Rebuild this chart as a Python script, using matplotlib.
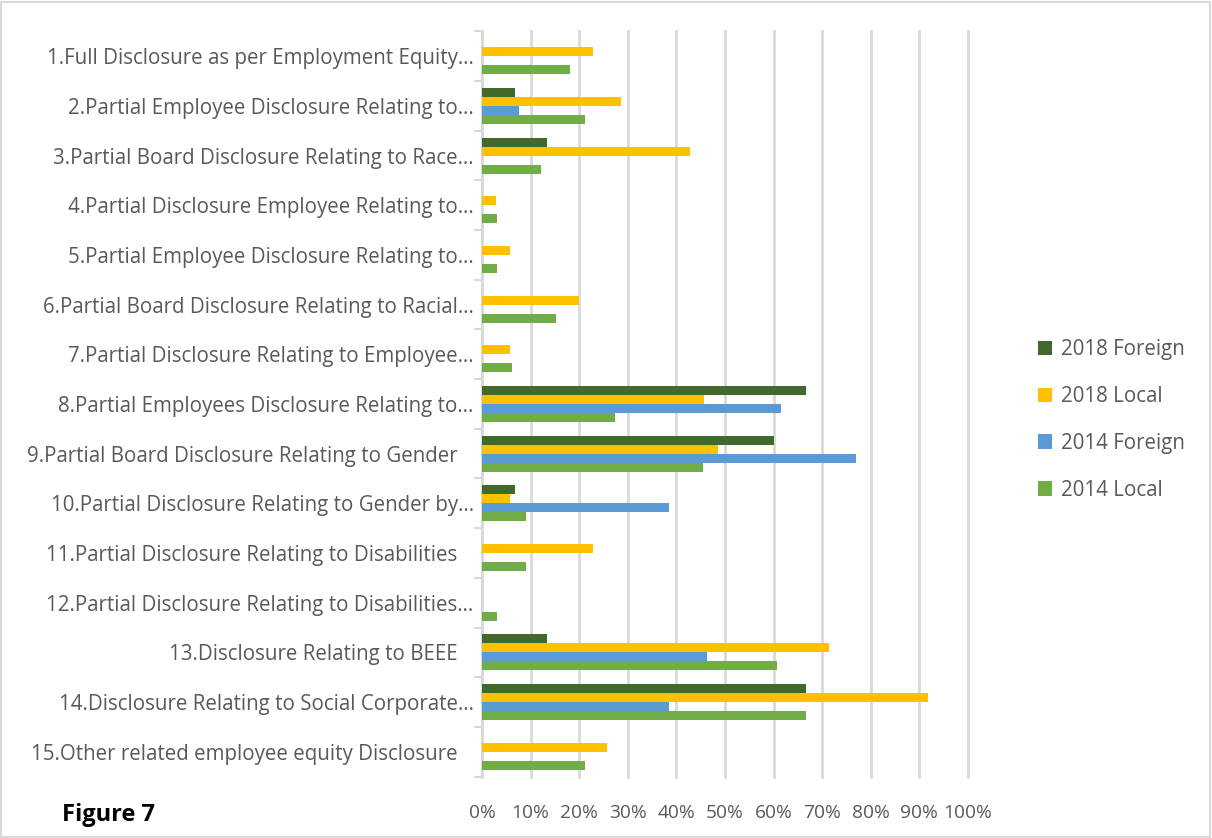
import matplotlib.pyplot as plt
import matplotlib.patches as mpatches
import numpy as np

plt.rcParams['font.family'] = ['Open Sans', 'DejaVu Sans']

categories = [
    "1.Full Disclosure as per Employment Equity\u2026",
    "2.Partial Employee Disclosure Relating to\u2026",
    "3.Partial Board Disclosure Relating to Race\u2026",
    "4.Partial Disclosure Employee Relating to\u2026",
    "5.Partial Employee Disclosure Relating to\u2026",
    "6.Partial Board Disclosure Relating to Racial\u2026",
    "7.Partial Disclosure Relating to Employee\u2026",
    "8.Partial Employees Disclosure Relating to\u2026",
    "9.Partial Board Disclosure Relating to Gender   ",
    "10.Partial Disclosure Relating to Gender by\u2026",
    "11.Partial Disclosure Relating to Disabilities   ",
    "12.Partial Disclosure Relating to Disabilities\u2026",
    "13.Disclosure Relating to BEEE   ",
    "14.Disclosure Relating to Social Corporate\u2026",
    "15.Other related employee equity Disclosure   ",
]

# values in percent, categories 1..15
foreign_2018 = [0, 6.7, 13.3, 0, 0, 0, 0, 66.7, 60.0, 6.7, 0, 0, 13.3, 66.7, 0]
local_2018 = [22.9, 28.6, 42.9, 2.9, 5.7, 20.0, 5.7, 45.7, 48.6, 5.7, 22.9, 0, 71.4, 91.7, 25.7]
foreign_2014 = [0, 7.7, 0, 0, 0, 0, 0, 61.5, 76.9, 38.5, 0, 0, 46.2, 38.5, 0]
local_2014 = [18.2, 21.2, 12.1, 3.0, 3.0, 15.2, 6.1, 27.3, 45.5, 9.1, 9.1, 3.0, 60.6, 66.7, 21.2]

series = [
    ("2018 Foreign", foreign_2018, "#43682B"),
    ("2018 Local", local_2018, "#FFC000"),
    ("2014 Foreign", foreign_2014, "#5B9BD5"),
    ("2014 Local", local_2014, "#70AD47"),
]

fig = plt.figure(figsize=(12.12, 8.38), dpi=100)
ax = fig.add_axes([482/1212, 1 - 776.5/838, 486/1212, 745/838])

n = len(categories)
y = np.arange(n)
h = 0.18
for i, (name, vals, col) in enumerate(series):
    ax.barh(y + (i - 1.5) * h, np.array(vals) / 100, height=h, color=col,
            label=name, zorder=3)

ax.set_xlim(0, 1)
ax.set_ylim(n - 0.5, -0.5)
ax.set_xticks(np.arange(0, 1.01, 0.1))
ax.set_xticklabels([f"{int(round(v*100))}%" for v in np.arange(0, 1.01, 0.1)])
ax.grid(axis="x", color="#d9d9d9", linewidth=2, zorder=0)
for gl in ax.get_xgridlines():
    gl.set_clip_on(False)
ax.set_yticks(y)
ax.set_yticklabels(categories)
ax.set_yticks(np.arange(-0.5, n), minor=True)
ax.tick_params(axis="y", which="major", length=0, pad=6, labelsize=14.8, labelcolor="#595959")
ax.tick_params(axis="y", which="minor", length=6, width=1.5, color="#d9d9d9")
ax.tick_params(axis="x", length=0, pad=20, labelsize=13.8, labelcolor="#595959")
for s in ["top", "right", "bottom"]:
    ax.spines[s].set_visible(False)
ax.spines["left"].set_color("#d9d9d9")
ax.spines["left"].set_linewidth(1.5)

ax.legend(loc="center left", bbox_to_anchor=(1038/1212, 1 - 420/838), bbox_transform=fig.transFigure,
          frameon=False, fontsize=14.8, labelcolor="#595959", handlelength=0.7, handleheight=0.7,
          handletextpad=0.4, labelspacing=1.25, borderpad=0, borderaxespad=0)

fig.text(62/1212, 1 - 815/838, "Figure 7", fontsize=17, fontweight="bold", va="center", ha="left")
fig.patches.append(mpatches.Rectangle((0.001, 0.001), 0.997, 0.997, transform=fig.transFigure,
                                      fill=False, edgecolor="#d9d9d9", linewidth=1.5))

fig.savefig("out.png", dpi=100)
